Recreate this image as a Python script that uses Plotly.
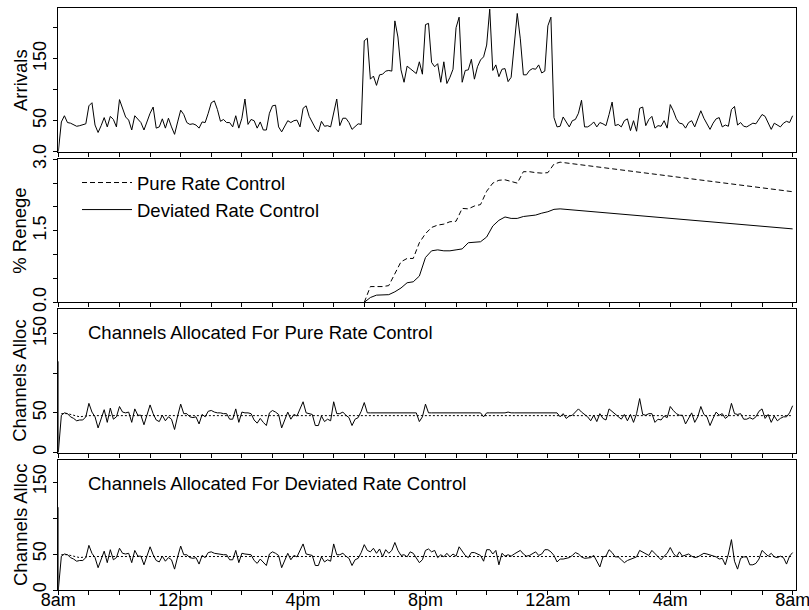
import plotly.graph_objects as go

# ---------------- data ----------------
STEP_HOURS = 0.1  # sampling interval of the series (6 minutes)

arrivals = [
    0, 48, 58, 47, 46, 44, 41, 42, 43, 45,
    74, 79, 43, 31, 42, 55, 40, 57, 52, 40,
    84, 70, 56, 51, 35, 58, 52, 47, 35, 50,
    62, 72, 38, 40, 53, 38, 54, 40, 28, 48,
    67, 60, 47, 44, 45, 43, 38, 48, 47, 62,
    79, 82, 68, 49, 52, 47, 47, 40, 58, 38,
    54, 85, 44, 52, 50, 38, 48, 35, 35, 62,
    74, 75, 40, 32, 42, 50, 47, 50, 51, 40,
    70, 74, 57, 48, 38, 32, 49, 41, 42, 40,
    65, 85, 42, 54, 54, 47, 36, 41, 45, 44,
    179, 183, 117, 122, 107, 124, 125, 130, 131, 130,
    211, 185, 132, 112, 138, 134, 130, 126, 145, 125,
    205, 207, 144, 137, 142, 112, 145, 110, 120, 133,
    200, 217, 112, 131, 132, 149, 117, 137, 148, 153,
    172, 230, 131, 140, 121, 133, 134, 113, 120, 175,
    223, 182, 124, 124, 131, 134, 133, 140, 127, 130,
    203, 217, 55, 40, 41, 56, 48, 40, 50, 52,
    62, 83, 40, 40, 43, 48, 40, 47, 45, 42,
    60, 80, 42, 44, 40, 50, 53, 34, 50, 33,
    70, 72, 42, 52, 57, 38, 42, 41, 50, 38,
    76, 66, 53, 46, 45, 38, 47, 50, 40, 54,
    66, 54, 44, 36, 46, 53, 55, 40, 43, 41,
    68, 73, 43, 47, 41, 40, 43, 46, 45, 53,
    60, 57, 47, 36, 46, 43, 40, 46, 49, 47, 58,
]

# channels allocated before congestion (identical for both controls)
channels_common = [
    115, 0, 47, 50, 49, 45, 43, 40, 41, 41, 45,
    62, 51, 45, 31, 44, 54, 38, 56, 42, 45,
    58, 51, 50, 51, 38, 55, 47, 47, 35, 47,
    60, 49, 41, 39, 47, 40, 45, 42, 29, 46,
    61, 49, 49, 45, 44, 45, 36, 48, 45, 52,
    53, 51, 50, 50, 49, 49, 42, 42, 55, 38,
    51, 50, 50, 49, 41, 37, 43, 38, 34, 50,
    53, 51, 48, 31, 42, 51, 42, 48, 46, 55,
    64, 50, 49, 48, 34, 34, 46, 39, 42, 40,
    64, 49, 49, 51, 47, 44, 34, 42, 44, 52,
]

channels_pure_rest = [
    63, 50, 50, 50, 50, 50, 50, 50, 50, 50,
    50, 50, 50, 50, 50, 50, 50, 50, 39, 45,
    61, 50, 50, 50, 50, 50, 50, 50, 50, 50,
    50, 50, 50, 50, 50, 50, 50, 50, 50, 45,
    50, 50, 50, 50, 50, 50, 50, 51, 50, 50,
    50, 50, 50, 50, 50, 50, 50, 50, 50, 50,
    50, 50, 50, 50, 45, 49, 43, 46, 47, 51,
    55, 51, 48, 45, 40, 47, 39, 49, 43, 41,
    55, 52, 48, 46, 42, 48, 40, 48, 38, 49,
    68, 48, 47, 49, 49, 38, 42, 41, 46, 44,
    58, 53, 49, 47, 47, 36, 43, 50, 38, 45,
    58, 48, 45, 34, 43, 51, 47, 49, 43, 46,
    62, 49, 48, 49, 42, 42, 44, 42, 45, 52,
    55, 43, 48, 38, 46, 40, 43, 45, 45, 50, 59,
]

channels_dev_rest = [
    63, 55, 53, 58, 51, 57, 46, 56, 51, 55,
    66, 55, 48, 49, 46, 53, 51, 44, 38, 42,
    55, 57, 53, 55, 45, 49, 46, 51, 46, 50,
    47, 60, 54, 48, 45, 52, 52, 50, 48, 40,
    56, 56, 50, 55, 35, 51, 47, 49, 47, 50,
    52, 55, 50, 47, 48, 50, 53, 48, 50, 56,
    56, 53, 48, 39, 43, 43, 44, 45, 48, 52,
    50, 46, 44, 44, 45, 48, 41, 32, 46, 47,
    56, 52, 46, 46, 42, 38, 41, 43, 44, 46,
    55, 53, 51, 48, 55, 51, 46, 42, 47, 51,
    59, 51, 46, 53, 47, 49, 50, 47, 45, 46,
    48, 51, 50, 49, 47, 46, 43, 44, 35, 50,
    70, 40, 29, 44, 46, 46, 35, 35, 37, 43,
    55, 51, 47, 51, 46, 45, 47, 45, 36, 47, 52,
]

channels_pure = channels_common + channels_pure_rest
channels_dev = channels_common + channels_dev_rest

# smooth reference level drawn dotted in the channel panels
ref_hours = [0.1, 0.3, 0.7, 1.0, 24.0]
ref_level = [49, 49, 45, 46.5, 46.5]

renege_hours = [10.0, 10.2, 10.4, 10.6, 10.8, 11.0, 11.2, 11.4, 11.6, 11.8,
                12.0, 12.2, 12.4, 12.6, 12.8, 13.0, 13.2, 13.4, 13.6, 13.8,
                14.0, 14.2, 14.4, 14.6, 14.8, 15.0, 15.2, 15.4, 15.6, 15.8,
                16.0, 16.2, 16.4, 24.0]
renege_pure = [0.0, 0.33, 0.33, 0.33, 0.35, 0.60, 0.85, 0.92, 0.92, 1.25,
               1.44, 1.57, 1.62, 1.64, 1.69, 1.70, 1.97, 1.96, 2.02, 2.05,
               2.33, 2.50, 2.56, 2.57, 2.54, 2.50, 2.74, 2.74, 2.72, 2.71,
               2.72, 2.90, 2.94, 2.32]
renege_dev = [0.0, 0.10, 0.15, 0.15, 0.16, 0.22, 0.30, 0.41, 0.43, 0.55,
              0.94, 1.08, 1.10, 1.08, 1.08, 1.10, 1.12, 1.25, 1.26, 1.27,
              1.37, 1.60, 1.72, 1.79, 1.76, 1.76, 1.80, 1.82, 1.83, 1.87,
              1.90, 1.95, 1.96, 1.54]

hour_ticks = list(range(25))
hour_labels = {0: "8am", 4: "12pm", 8: "4pm", 12: "8pm", 16: "12am", 20: "4am", 24: "8am"}

# ---------------- derived time grids ----------------
t_arr = [round(i * STEP_HOURS, 2) for i in range(len(arrivals))]
t_chan = [0.0] + [round(i * STEP_HOURS, 2) for i in range(len(channels_pure) - 1)]

# ---------------- layout helpers ----------------
W, H = 809, 610
FONT = "Arial, Liberation Sans, Helvetica, sans-serif"


def fx(p):
    return p / W


def fy(p):
    return 1 - p / H


XDOM = [fx(58.3), fx(796)]
panels = [  # (top px, bottom px)
    (8.3, 151.7),
    (159.3, 302.3),
    (309.0, 452.5),
    (460.0, 590.0),
]

fig = go.Figure()
line = dict(color="black", width=1)

fig.add_trace(go.Scatter(x=t_arr, y=arrivals, mode="lines", line=line,
                         xaxis="x", yaxis="y", showlegend=False))

fig.add_trace(go.Scatter(x=renege_hours, y=renege_pure, mode="lines",
                         line=dict(color="black", width=1, dash="5px,3px"),
                         name="Pure Rate Control", xaxis="x2", yaxis="y2"))
fig.add_trace(go.Scatter(x=renege_hours, y=renege_dev, mode="lines",
                         line=line, name="Deviated Rate Control",
                         xaxis="x2", yaxis="y2"))

for ax, series in (("3", channels_pure), ("4", channels_dev)):
    fig.add_trace(go.Scatter(x=ref_hours, y=ref_level, mode="lines",
                             line=dict(color="black", width=1, dash="2px,2px"),
                             xaxis="x" + ax, yaxis="y" + ax, showlegend=False))
    fig.add_trace(go.Scatter(x=t_chan, y=series, mode="lines", line=line,
                             xaxis="x" + ax, yaxis="y" + ax, showlegend=False))

yranges = [[0, 231.3], [0, 3.0], [0, 181], [0, 180.6]]
ytickvals = [[0, 50, 100, 150, 200], [0, 0.5, 1.0, 1.5, 2.0, 2.5, 3.0],
             [0, 50, 100, 150], [0, 50, 100, 150]]
yticktext = [["", "50", "", "150", ""], ["0.0", "", "", "1.5", "", "", "3.0"],
             ["0", "50", "", "150"], ["0", "50", "", "150"]]
ytitles = ["Arrivals", "% Renege", "Channels Alloc", "Channels Alloc"]

layout = dict(
    template="none",
    width=W, height=H,
    margin=dict(l=0, r=0, t=0, b=0, autoexpand=False),
    paper_bgcolor="white", plot_bgcolor="white",
    font=dict(family=FONT, size=18, color="black"),
    showlegend=True,
    legend=dict(x=fx(77), y=fy(164), xanchor="left", yanchor="top",
                bgcolor="rgba(0,0,0,0)", borderwidth=0, font=dict(size=18.5),
                tracegroupgap=0, itemwidth=50),
)

annotations = []
for k, (top, bot) in enumerate(panels):
    sfx = "" if k == 0 else str(k + 1)
    last = k == len(panels) - 1
    layout["xaxis" + sfx] = dict(
        domain=XDOM, range=[0, 24.11], anchor="y" + sfx, automargin=False,
        showline=True, mirror=True, linecolor="black", linewidth=1,
        showgrid=False, zeroline=False,
        tickmode="array", tickvals=hour_ticks,
        ticktext=[hour_labels.get(h, "") for h in hour_ticks],
        showticklabels=last, ticks="outside", ticklen=4, tickcolor="black",
        tickwidth=1, tickfont=dict(size=18), ticklabelstandoff=-11,
        ticklabeloverflow="allow",
    )
    layout["yaxis" + sfx] = dict(
        domain=[fy(bot), fy(top)], range=yranges[k], anchor="x" + sfx,
        automargin=False,
        showline=True, mirror=True, linecolor="black", linewidth=1,
        showgrid=False, zeroline=False,
        tickmode="array", tickvals=ytickvals[k], ticktext=yticktext[k],
        ticks="outside", ticklen=4, tickcolor="black", tickwidth=1,
        tickangle=-90, tickfont=dict(size=18), ticklabeloverflow="allow",
    )
    annotations.append(dict(
        text=ytitles[k], xref="paper", yref="paper", x=fx(20),
        y=fy((top + bot) / 2), textangle=-90, showarrow=False,
        font=dict(size=18.5), xanchor="center", yanchor="middle"))

annotations.append(dict(text="Channels Allocated For Pure Rate Control",
                        xref="paper", yref="paper", x=fx(86), y=fy(332),
                        xanchor="left", yanchor="middle", showarrow=False,
                        font=dict(size=18.5)))
annotations.append(dict(text="Channels Allocated For Deviated Rate Control",
                        xref="paper", yref="paper", x=fx(86), y=fy(483),
                        xanchor="left", yanchor="middle", showarrow=False,
                        font=dict(size=18.5)))
layout["annotations"] = annotations

fig.update_layout(**layout)
fig.write_html("out.html")
